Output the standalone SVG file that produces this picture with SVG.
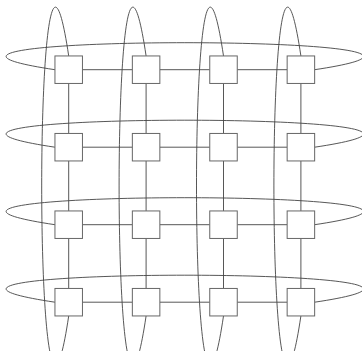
<svg xmlns="http://www.w3.org/2000/svg" width="362" height="351" viewBox="0 0 362 351">
<style>
.n{fill:#fff;stroke:#666;stroke-width:1}
.e{fill:none;stroke:#444;stroke-width:0.9}
</style>
<rect width="362" height="351" fill="#fff"/>
<g id="connectors" class="e">
<path d="M82.45 69.7H132.35M159.85 69.7H209.75M237.25 69.7H287.15"/>
<path d="M82.45 147.2H132.35M159.85 147.2H209.75M237.25 147.2H287.15"/>
<path d="M82.45 224.7H132.35M159.85 224.7H209.75M237.25 224.7H287.15"/>
<path d="M82.45 302.2H132.35M159.85 302.2H209.75M237.25 302.2H287.15"/>
<path d="M68.7 83.45V133.45M68.7 160.95V210.95M68.7 238.45V288.45"/>
<path d="M146.1 83.45V133.45M146.1 160.95V210.95M146.1 238.45V288.45"/>
<path d="M223.5 83.45V133.45M223.5 160.95V210.95M223.5 238.45V288.45"/>
<path d="M300.9 83.45V133.45M300.9 160.95V210.95M300.9 238.45V288.45"/>
<path d="M54.95 69.7C-186 33.7 555.6 33.7 314.65 69.7"/>
<path d="M54.95 147.2C-186 111.2 555.6 111.2 314.65 147.2"/>
<path d="M54.95 224.7C-186 188.7 555.6 188.7 314.65 224.7"/>
<path d="M54.95 302.2C-186 266.2 555.6 266.2 314.65 302.2"/>
<path d="M68.7 55.95C32.7 -185 32.7 557 68.7 315.95"/>
<path d="M146.1 55.95C110.1 -185 110.1 557 146.1 315.95"/>
<path d="M223.5 55.95C187.5 -185 187.5 557 223.5 315.95"/>
<path d="M300.9 55.95C264.9 -185 264.9 557 300.9 315.95"/>
</g>
<g id="n00"><rect class="n" x="54.95" y="55.95" width="27.5" height="27.5"/></g>
<g id="n10"><rect class="n" x="132.35" y="55.95" width="27.5" height="27.5"/></g>
<g id="n20"><rect class="n" x="209.75" y="55.95" width="27.5" height="27.5"/></g>
<g id="n30"><rect class="n" x="287.15" y="55.95" width="27.5" height="27.5"/></g>
<g id="n01"><rect class="n" x="54.95" y="133.45" width="27.5" height="27.5"/></g>
<g id="n11"><rect class="n" x="132.35" y="133.45" width="27.5" height="27.5"/></g>
<g id="n21"><rect class="n" x="209.75" y="133.45" width="27.5" height="27.5"/></g>
<g id="n31"><rect class="n" x="287.15" y="133.45" width="27.5" height="27.5"/></g>
<g id="n02"><rect class="n" x="54.95" y="210.95" width="27.5" height="27.5"/></g>
<g id="n12"><rect class="n" x="132.35" y="210.95" width="27.5" height="27.5"/></g>
<g id="n22"><rect class="n" x="209.75" y="210.95" width="27.5" height="27.5"/></g>
<g id="n32"><rect class="n" x="287.15" y="210.95" width="27.5" height="27.5"/></g>
<g id="n03"><rect class="n" x="54.95" y="288.45" width="27.5" height="27.5"/></g>
<g id="n13"><rect class="n" x="132.35" y="288.45" width="27.5" height="27.5"/></g>
<g id="n23"><rect class="n" x="209.75" y="288.45" width="27.5" height="27.5"/></g>
<g id="n33"><rect class="n" x="287.15" y="288.45" width="27.5" height="27.5"/></g>
</svg>
